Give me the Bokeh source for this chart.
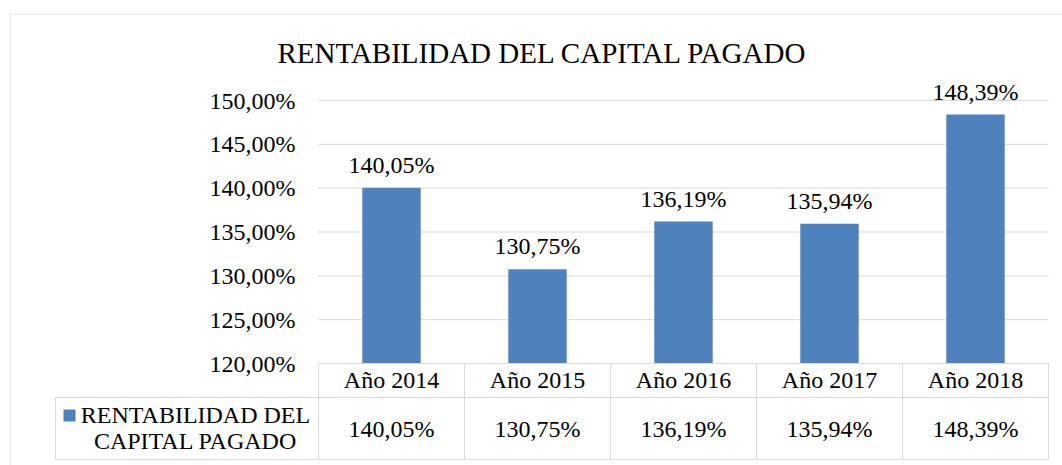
from bokeh.plotting import figure
from bokeh.models import (Range1d, LinearAxis, FixedTicker, CustomJSTickFormatter,
                          ColumnDataSource, Label)
from bokeh.embed import file_html
from bokeh.resources import INLINE
from bokeh.core.properties import value

# ---------------- data ----------------
categories = ["Año 2014", "Año 2015", "Año 2016", "Año 2017", "Año 2018"]
rentabilidad = [140.05, 130.75, 136.19, 135.94, 148.39]
series_lines = ["RENTABILIDAD DEL", "CAPITAL PAGADO"]
title_text = "RENTABILIDAD DEL CAPITAL PAGADO"
y_ticks = [120, 125, 130, 135, 140, 145, 150]


def fmt(v):
    return f"{v:.2f}".replace(".", ",") + "%"


value_labels = [fmt(v) for v in rentabilidad]

# ---------------- layout (page pixels) ----------------
W, H = 1062, 465
PAGE = 0                       # observed page offset of the canvas
FL, FT = 9, 13                 # frame left / top on the page
FR, FB = PAGE + W, PAGE + H    # frame right / bottom on the page
PLOT_L, PLOT_R = 318, 1048     # plot area left / right
Y_LOW_PX, Y_HIGH_PX = 363, 100  # page y of lowest / highest tick
LEG_L = 55                     # legend cell left
HDR_B = 397                    # header row bottom
TBL_B = 459                    # table bottom
TXT_CORR = 9                   # baseline correction for text rendering

n = len(categories)
col_w = (PLOT_R - PLOT_L) / n
ppu = (Y_LOW_PX - Y_HIGH_PX) / (y_ticks[-1] - y_ticks[0])


def xd(px):
    return (px - PLOT_L) / col_w


def yd(py):
    return y_ticks[0] - (py - Y_LOW_PX) / ppu


def yt(py):
    return yd(py - TXT_CORR)


FONT = value("Liberation Serif")
GRID = "#D9D9D9"
BAR = "#4F81BD"

p = figure(width=W, height=H,
           x_range=Range1d(xd(FL), xd(FR)), y_range=Range1d(yd(FB), yd(FT)),
           x_axis_location=None, y_axis_location=None,
           toolbar_location=None, output_backend="svg",
           min_border_left=FL - PAGE, min_border_top=FT - PAGE,
           min_border_right=0, min_border_bottom=0)
p.outline_line_color = None
p.background_fill_color = "white"
p.border_fill_color = "white"
p.grid.visible = False

# chart border (top and left)
p.segment(x0=[xd(FL), xd(FL + 0.5)], x1=[xd(FR), xd(FL + 0.5)],
          y0=[yd(FT + 0.5), yd(FT)], y1=[yd(FT + 0.5), yd(FB)],
          line_color=GRID, line_width=1)

# gridlines
p.segment(x0=[0] * len(y_ticks), x1=[n] * len(y_ticks), y0=y_ticks, y1=y_ticks,
          line_color=GRID, line_width=1)

# bars
xs = [i + 0.5 for i in range(n)]
src = ColumnDataSource(dict(x=xs, top=rentabilidad, lab=value_labels, cat=categories))
p.vbar(x="x", top="top", bottom=y_ticks[0], width=0.4, source=src,
       fill_color=BAR, line_color=None)

# data labels
p.text(x="x", y="top", text="lab", source=src, text_align="center",
       text_baseline="alphabetic", y_offset=-14 - TXT_CORR, text_font=FONT,
       text_font_size="24px", text_color="black")

# y axis
yaxis = LinearAxis(fixed_location=0, ticker=FixedTicker(ticks=y_ticks),
                   formatter=CustomJSTickFormatter(
                       code="return tick.toFixed(2).replace('.', ',') + '%';"),
                   axis_line_color=None, major_tick_line_color=None,
                   minor_tick_line_color=None, major_tick_out=0, major_tick_in=0,
                   major_label_standoff=23, major_label_text_font="Liberation Serif",
                   major_label_text_font_size="24px", major_label_text_color="black")
p.add_layout(yaxis, "left")

# data table lines
vx = list(range(n + 1))
p.segment(x0=vx, x1=vx, y0=[yd(Y_LOW_PX)] * (n + 1), y1=[yd(TBL_B)] * (n + 1),
          line_color=GRID, line_width=1)
p.segment(x0=[xd(LEG_L)], x1=[xd(LEG_L)], y0=[yd(HDR_B)], y1=[yd(TBL_B)],
          line_color=GRID, line_width=1)
p.segment(x0=[0, xd(LEG_L), xd(LEG_L)], x1=[n, n, n],
          y0=[yd(Y_LOW_PX), yd(HDR_B), yd(TBL_B)], y1=[yd(Y_LOW_PX), yd(HDR_B), yd(TBL_B)],
          line_color=GRID, line_width=1)

# table texts
p.text(x="x", y=yt(388), text="cat", source=src, text_align="center",
       text_baseline="alphabetic", text_font=FONT, text_font_size="24px",
       text_color="black")
p.text(x="x", y=yt(437.5), text="lab", source=src, text_align="center",
       text_baseline="alphabetic", text_font=FONT, text_font_size="24px",
       text_color="black")

# legend cell
p.scatter(x=[xd(69)], y=[yd(415)], marker="square", size=12,
          fill_color=BAR, line_color=None)
p.text(x=[xd(195), xd(195)], y=[yt(423), yt(449.5)], text=series_lines,
       text_align="center", text_baseline="alphabetic", text_font=FONT,
       text_font_size="24px", text_color="black")

# title
p.add_layout(Label(x=xd(542), y=yt(61.5), text=title_text, text_align="center",
                   text_baseline="alphabetic", text_font="Liberation Serif",
                   text_font_size="29px", text_color="black"))

open("out.html", "w").write(file_html(p, INLINE))
